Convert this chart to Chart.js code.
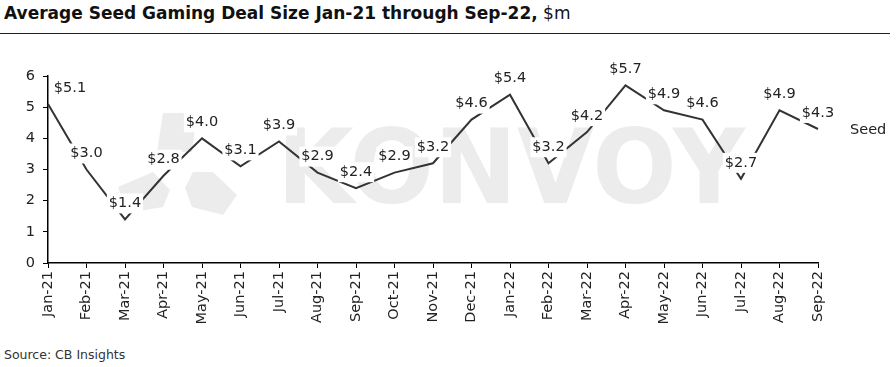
<!DOCTYPE html>
<html>
<head>
<meta charset="utf-8">
<script src="https://cdn.jsdelivr.net/npm/chart.js@4"></script>
<style>
  body { margin: 0; background: #fff; width: 896px; height: 367px; overflow: hidden; font-family: "DejaVu Sans", sans-serif; }
  #title { position: absolute; left: 4px; top: 3px; font-size: 17px; color: #111; white-space: nowrap; font-family: "DejaVu Sans", sans-serif; }
  #title b { font-weight: bold; }
  #rule { position: absolute; left: 0; top: 33px; width: 890px; height: 1px; background: #222; }
  #wrap { position: absolute; left: 0; top: 40px; width: 896px; height: 295px; }
  #source { position: absolute; left: 4px; top: 347px; font-size: 12.5px; color: #333; }
</style>
</head>
<body>
<div id="title"><b>Average Seed Gaming Deal Size Jan-21 through Sep-22,</b> $m</div>
<div id="rule"></div>
<div id="wrap"><canvas id="chart"></canvas></div>
<div id="source">Source: CB Insights</div>
<script>
const months = ["Jan-21", "Feb-21", "Mar-21", "Apr-21", "May-21", "Jun-21", "Jul-21", "Aug-21", "Sep-21", "Oct-21", "Nov-21",
  "Dec-21", "Jan-22", "Feb-22", "Mar-22", "Apr-22", "May-22", "Jun-22", "Jul-22", "Aug-22", "Sep-22"];
const seedValues = [5.1, 3.0, 1.4, 2.8, 4.0, 3.1, 3.9, 2.9, 2.4, 2.9, 3.2, 4.6, 5.4, 3.2, 4.2, 5.7, 4.9, 4.6, 2.7, 4.9, 4.3];
const yTicks = [0, 1, 2, 3, 4, 5, 6];
const seriesName = "Seed";

const watermark = {
  id: "watermark",
  beforeDatasetsDraw(chart) {
    const ctx = chart.ctx;
    ctx.save();
    ctx.fillStyle = "#ececec";
    const shapes = [
      [[163, 73], [197, 73], [192, 112], [157, 112]],
      [[118, 147], [153, 132], [170, 150], [163, 167], [127, 173]],
      [[185, 148], [193, 132], [213, 132], [237, 155], [223, 175], [192, 167]],
    ];
    shapes.forEach((pts) => {
      ctx.beginPath();
      pts.forEach(([x, y], i) => (i ? ctx.lineTo(x, y) : ctx.moveTo(x, y)));
      ctx.closePath();
      ctx.fill();
    });
    ctx.font = "bold 104px 'DejaVu Sans'";
    ctx.textBaseline = "alphabetic";
    const w = ctx.measureText("KONVOY").width;
    ctx.translate(277, 163);
    ctx.scale(468 / w, 1);
    ctx.fillText("KONVOY", 0, 0);
    ctx.restore();
  },
};

const pointLabels = {
  id: "pointLabels",
  afterDatasetsDraw(chart) {
    const ctx = chart.ctx;
    const meta = chart.getDatasetMeta(0);
    ctx.save();
    ctx.font = "14.5px 'DejaVu Sans'";
    ctx.textAlign = "center";
    ctx.textBaseline = "middle";
    meta.data.forEach((pt, i) => {
      const txt = "$" + seedValues[i].toFixed(1);
      const x = pt.x + (i === 0 ? 22 : 0);
      const y = pt.y - 16;
      const w = ctx.measureText(txt).width + 4;
      ctx.fillStyle = "#fff";
      ctx.fillRect(x - w / 2, y - 10, w, 20);
      ctx.fillStyle = "#222";
      ctx.fillText(txt, x, y);
    });
    const last = meta.data[meta.data.length - 1];
    ctx.textAlign = "left";
    ctx.fillText(seriesName, last.x + 32, last.y + 1);
    ctx.restore();
  },
};

new Chart(document.getElementById("chart"), {
  type: "line",
  data: {
    labels: months,
    datasets: [{
      label: seriesName,
      data: seedValues,
      borderColor: "#333",
      borderWidth: 2,
      pointRadius: 0,
      tension: 0,
    }],
  },
  options: {
    responsive: true,
    maintainAspectRatio: false,
    animation: false,
    layout: { padding: { left: 0, right: 78, top: 36, bottom: 0 } },
    plugins: { legend: { display: false }, tooltip: { enabled: false } },
    scales: {
      x: {
        offset: false,
        grid: { display: true, drawOnChartArea: false, color: "#000", tickLength: 5 },
        border: { color: "#000", width: 1.5 },
        ticks: { color: "#222", font: { size: 14.5, family: "DejaVu Sans" }, minRotation: 90, maxRotation: 90, autoSkip: false, padding: 3 },
        afterFit: (s) => { s.height = 72; },
      },
      y: {
        min: 0,
        max: 6,
        afterBuildTicks: (s) => { s.ticks = yTicks.map((v) => ({ value: v })); },
        grid: { display: true, drawOnChartArea: false, color: "#000", tickLength: 5 },
        border: { color: "#000", width: 1.5 },
        ticks: { color: "#222", font: { size: 14.5, family: "DejaVu Sans" }, padding: 8 },
        afterFit: (s) => { s.width = 48; },
      },
    },
  },
  plugins: [watermark, pointLabels],
});
</script>
</body>
</html>
